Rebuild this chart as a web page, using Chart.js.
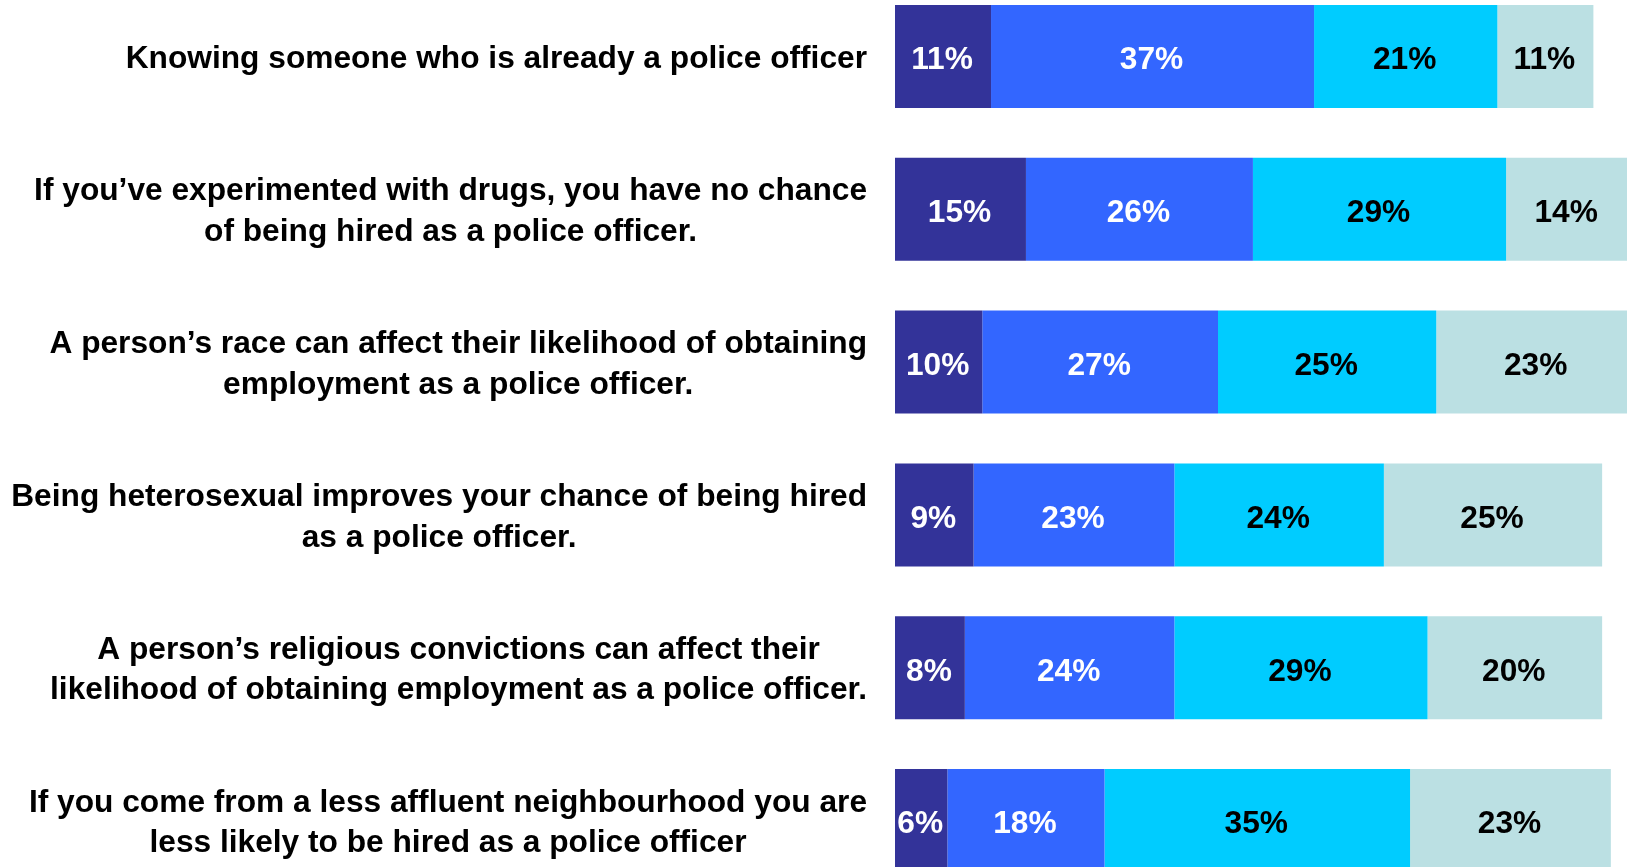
<!DOCTYPE html>
<html>
<head>
<meta charset="utf-8">
<title>Perceptions of police hiring</title>
<script src="https://cdn.jsdelivr.net/npm/chart.js@4.4.1/dist/chart.umd.min.js"></script>
<style>
  html, body { margin: 0; padding: 0; background: #ffffff; overflow: hidden; }
  #frame { position: relative; width: 1627px; height: 867px; overflow: hidden; }
  #chart { position: absolute; left: 0; top: -20px; }
</style>
</head>
<body>
<div id="frame">
  <canvas id="chart" width="1768" height="917"></canvas>
</div>
<script>
// Statements (each entry is one label, split into its printed lines)
const categories = [
  ["Knowing someone who is already a police officer"],
  ["If you\u2019ve experimented with drugs, you have no chance", "of being hired as a police officer."],
  ["A person\u2019s race can affect their likelihood of obtaining", "employment as a police officer."],
  ["Being heterosexual improves your chance of being hired", "as a police officer."],
  ["A person\u2019s religious convictions can affect their", "likelihood of obtaining employment as a police officer."],
  ["If you come from a less affluent neighbourhood you are", "less likely to be hired as a police officer"]
];

// Share of respondents (%) in each response group
const seriesNames = ["Strongly agree", "Agree", "Disagree", "Strongly disagree"];
const stronglyAgree    = [11, 15, 10,  9,  8,  6];
const agree            = [37, 26, 27, 23, 24, 18];
const disagree         = [21, 29, 25, 24, 29, 35];
const stronglyDisagree = [11, 14, 23, 25, 20, 23];

const seriesColors = ["#333399", "#3366FF", "#00CCFF", "#BBE0E3"];
const labelColors  = ["#FFFFFF", "#FFFFFF", "#000000", "#000000"];

const FONT = '"Liberation Sans", Arial, Helvetica, sans-serif';
const FONT_SIZE = 31.7;
const CAP = 0.716 * FONT_SIZE;
const LINE_H = 40.7;

// Values printed in the middle of each segment
const segmentLabels = {
  id: 'segmentLabels',
  afterDatasetsDraw(chart) {
    const ctx = chart.ctx;
    ctx.save();
    ctx.font = 'bold ' + FONT_SIZE + 'px ' + FONT;
    ctx.textAlign = 'center';
    ctx.textBaseline = 'alphabetic';
    chart.data.datasets.forEach((ds, di) => {
      const meta = chart.getDatasetMeta(di);
      ctx.fillStyle = labelColors[di];
      meta.data.forEach((bar, i) => {
        const cx = (bar.x + bar.base) / 2;
        ctx.fillText(ds.data[i] + '%', cx - 1, bar.y + CAP / 2 + 1.5);
      });
    });
    ctx.restore();
  }
};

// Category labels: block right-aligned next to the bars, lines centred within it
const statementLabels = {
  id: 'statementLabels',
  afterDraw(chart) {
    const ctx = chart.ctx;
    const yScale = chart.scales.y;
    const right = chart.chartArea.left - 28;
    ctx.save();
    ctx.font = 'bold ' + FONT_SIZE + 'px ' + FONT;
    ctx.fillStyle = '#000000';
    ctx.textAlign = 'center';
    ctx.textBaseline = 'alphabetic';
    chart.data.labels.forEach((lines, i) => {
      const cy = yScale.getPixelForValue(i);
      const widest = Math.max(...lines.map(l => ctx.measureText(l).width));
      const cx = right - widest / 2;
      const n = lines.length;
      lines.forEach((line, k) => {
        const y = cy + CAP / 2 + (k - (n - 1) / 2) * LINE_H;
        ctx.fillText(line, cx, y);
      });
    });
    ctx.restore();
  }
};

const seriesValues = [stronglyAgree, agree, disagree, stronglyDisagree];

new Chart(document.getElementById('chart'), {
  type: 'bar',
  data: {
    labels: categories,
    datasets: seriesValues.map((values, i) => ({
      label: seriesNames[i],
      data: values,
      backgroundColor: seriesColors[i],
      borderWidth: 0,
      barPercentage: 0.674,
      categoryPercentage: 1.0
    }))
  },
  options: {
    indexAxis: 'y',
    responsive: false,
    animation: false,
    events: [],
    layout: { padding: { left: 895, right: 0, top: 0, bottom: 0 } },
    scales: {
      x: { stacked: true, min: 0, max: 100, display: false },
      y: { stacked: true, display: false }
    },
    plugins: {
      legend: { display: false },
      tooltip: { enabled: false }
    }
  },
  plugins: [segmentLabels, statementLabels]
});
</script>
</body>
</html>
